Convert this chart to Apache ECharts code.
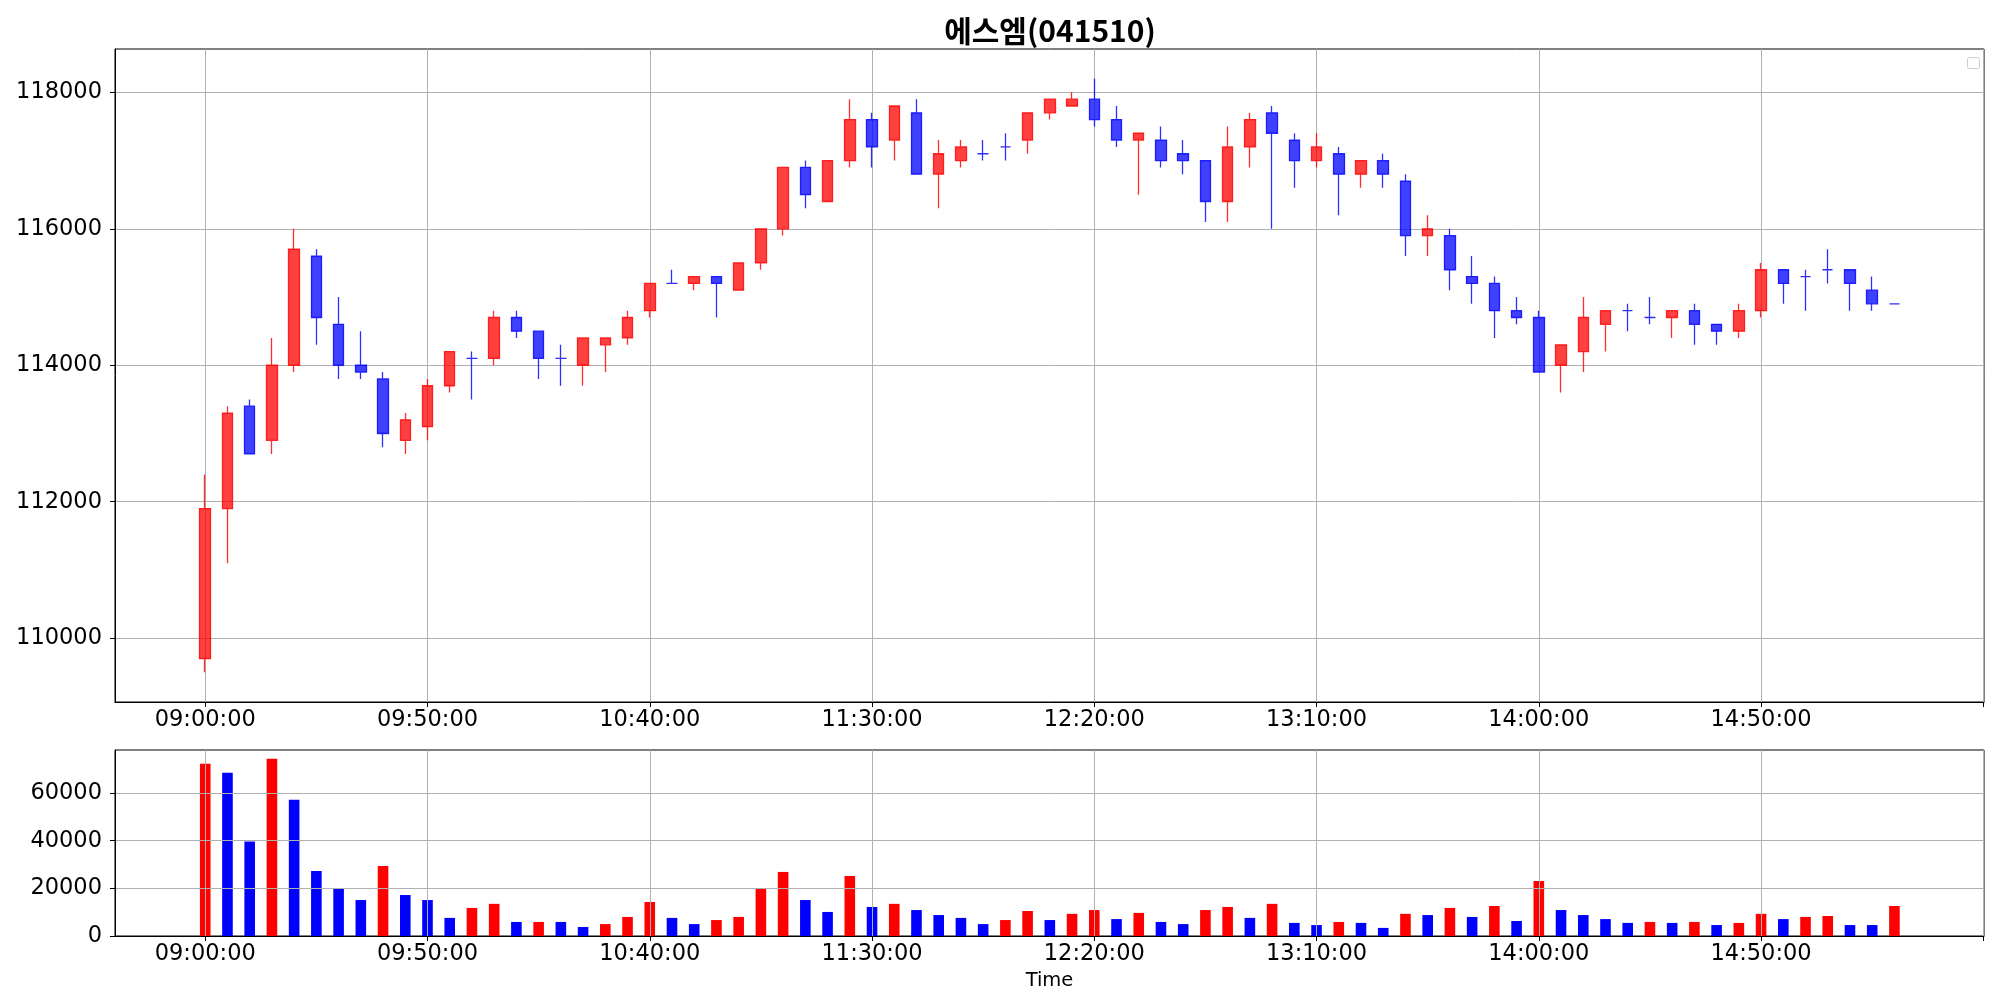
<!DOCTYPE html>
<html><head><meta charset="utf-8">
<script src="https://cdn.jsdelivr.net/npm/echarts@6/dist/echarts.min.js"></script>
<style>html,body{margin:0;padding:0;background:#fff}#c{width:2000px;height:1000px}</style>
</head><body><div id="c"></div><script>
const chartTitle = '에스엠(041510)';
const times = ['09:00','09:05','09:10','09:15','09:20','09:25','09:30','09:35','09:40','09:45',
  '09:50','09:55','10:00','10:05','10:10','10:15','10:20','10:25','10:30','10:35',
  '10:40','10:45','10:50','10:55','11:00','11:05','11:10','11:15','11:20','11:25',
  '11:30','11:35','11:40','11:45','11:50','11:55','12:00','12:05','12:10','12:15',
  '12:20','12:25','12:30','12:35','12:40','12:45','12:50','12:55','13:00','13:05',
  '13:10','13:15','13:20','13:25','13:30','13:35','13:40','13:45','13:50','13:55',
  '14:00','14:05','14:10','14:15','14:20','14:25','14:30','14:35','14:40','14:45',
  '14:50','14:55','15:00','15:05','15:10','15:15','15:20'];
const openP = [109700,111900,113400,112900,114000,115600,114600,114000,113800,112900,
  113100,113700,114100,114100,114700,114500,114100,114000,114300,114400,
  114800,115200,115200,115300,115100,115500,116000,116900,116400,117000,
  117600,117300,117700,116800,117000,117100,117200,117300,117700,117800,
  117900,117600,117300,117300,117100,117000,116400,117200,117700,117300,
  117000,117100,116800,117000,116700,115900,115900,115300,115200,114800,
  114700,114000,114200,114600,114800,114700,114700,114800,114600,114500,
  114800,115400,115300,115400,115400,115100,114900];
const closeP = [111900,113300,112700,114000,115700,114700,114000,113900,113000,113200,
  113700,114200,114100,114700,114500,114100,114100,114400,114400,114700,
  115200,115200,115300,115200,115500,116000,116900,116500,117000,117600,
  117200,117800,116800,117100,117200,117100,117200,117700,117900,117900,
  117600,117300,117400,117000,117000,116400,117200,117600,117400,117000,
  117200,116800,117000,116800,115900,116000,115400,115200,114800,114700,
  113900,114300,114700,114800,114800,114700,114800,114600,114500,114800,
  115400,115200,115300,115400,115200,114900,114900];
const lowP = [109500,111100,112700,112700,113900,114300,113800,113800,112800,112700,
  112900,113600,113500,114000,114400,113800,113700,113700,113900,114300,
  114700,115200,115100,114700,115100,115400,115900,116300,116400,116900,
  116900,117000,116800,116300,116900,117000,117000,117100,117600,117800,
  117500,117200,116500,116900,116800,116100,116100,116900,116000,116600,
  116900,116200,116600,116600,115600,115600,115100,114900,114400,114600,
  113900,113600,113900,114200,114500,114600,114400,114300,114300,114400,
  114700,114900,114800,115200,114800,114800,114900];
const highP = [112400,113400,113500,114400,116000,115700,115000,114500,113900,113300,
  113800,114200,114200,114800,114800,114500,114300,114400,114400,114800,
  115200,115400,115300,115300,115500,116000,116900,117000,117000,117900,
  117700,117800,117900,117300,117300,117300,117400,117700,117900,118000,
  118200,117800,117400,117500,117300,117000,117500,117700,117800,117400,
  117400,117200,117000,117100,116800,116200,116000,115600,115300,115000,
  114800,114300,115000,114800,114900,115000,114800,114900,114600,114900,
  115500,115400,115400,115700,115400,115300,114900];
const volume = [72300,68500,39700,74400,57200,27300,19800,15100,29400,17200,
  15100,7600,11800,13500,5900,5900,5900,3800,5000,8000,
  14300,7600,5000,6700,8000,19800,26900,15100,10100,25200,
  12200,13500,10900,8800,7600,5000,6700,10500,6700,9300,
  10900,7100,9700,5900,5000,10900,12200,7600,13500,5500,
  4600,5900,5500,3400,9300,8800,11800,8000,12600,6300,
  23100,10900,8800,7100,5500,5900,5500,5900,4600,5500,
  9300,7100,8000,8400,4600,4600,12600];
const volumeUp = [1,0,0,1,0,0,0,0,1,0,
  0,0,1,1,0,1,0,0,1,1,
  1,0,0,1,1,1,1,0,0,1,
  0,1,0,0,0,0,1,1,0,1,
  1,0,1,0,0,1,1,0,1,0,
  0,1,0,0,1,0,1,0,1,0,
  1,0,0,0,0,1,0,1,0,1,
  1,0,1,1,0,0,1];
const xTickIndex = [0,10,20,30,40,50,60,70,80];
const xTickLabels = ['09:00:00','09:50:00','10:40:00','11:30:00','12:20:00','13:10:00','14:00:00','14:50:00',''];
const priceTicks = [110000,112000,114000,116000,118000];
const volumeTicks = [0,20000,40000,60000];

const RED = 'rgba(255,0,0,0.75)', RED_L = 'rgba(255,0,0,0.82)';
const BLUE = 'rgba(0,0,255,0.75)', BLUE_L = 'rgba(0,0,255,0.82)';
const downStyle = {color: BLUE, color0: BLUE, borderColor: BLUE_L, borderColor0: BLUE_L, borderColorDoji: BLUE_L};

const candleData = times.map((t, i) => {
  const item = {value: [i, openP[i], closeP[i], lowP[i], highP[i]]};
  if (closeP[i] <= openP[i]) item.itemStyle = downStyle;
  return item;
});
const volData = times.map((t, i) => ({
  value: [i, volume[i]],
  itemStyle: {color: volumeUp[i] ? '#ff0000' : '#0000ff'}
}));

const font = 'DejaVu Sans';
function xAxisCfg(gridIndex, extra) {
  return Object.assign({
    type: 'value', gridIndex, min: -4.06, max: 80.03,
    axisLine: {onZero: false, lineStyle: {color: '#000', width: 1}},
    axisTick: {customValues: xTickIndex, length: 5, lineStyle: {color: '#000', width: 1}},
    axisLabel: {customValues: xTickIndex, color: '#000', fontSize: 22.5, fontFamily: font, margin: 7,
      formatter: v => { const k = xTickIndex.indexOf(Math.round(v)); return k >= 0 ? xTickLabels[k] : ''; }},
    splitLine: {show: true, lineStyle: {color: '#b0b0b0', width: 1}}
  }, extra || {});
}
function yAxisCfg(gridIndex, min, max, ticks, extra) {
  return Object.assign({
    type: 'value', gridIndex, min, max, scale: true,
    axisLine: {show: true, onZero: false, lineStyle: {color: '#000', width: 1}},
    axisTick: {show: true, customValues: ticks, length: 5, lineStyle: {color: '#000', width: 1}},
    axisLabel: {customValues: ticks, color: '#000', fontSize: 22.5, fontFamily: font, margin: 13,
      formatter: v => String(Math.round(v))},
    splitLine: {show: true, lineStyle: {color: '#b0b0b0', width: 1}}
  }, extra || {});
}

const chart = echarts.init(document.getElementById('c'), null, {renderer: 'canvas'});
chart.setOption({
  animation: false,
  backgroundColor: '#fff',
  grid: [
    {left: 115, top: 49, width: 1869, height: 653, show: true, borderColor: '#000', borderWidth: 1, backgroundColor: 'transparent'},
    {left: 115, top: 750, width: 1869, height: 186, show: true, borderColor: '#000', borderWidth: 1, backgroundColor: 'transparent'}
  ],
  xAxis: [
    xAxisCfg(0),
    xAxisCfg(1, {z: 5, name: 'Time', nameLocation: 'middle', nameGap: 35,
      nameTextStyle: {color: '#000', fontSize: 19.5, fontFamily: font}})
  ],
  yAxis: [
    yAxisCfg(0, 109065, 118635, priceTicks),
    yAxisCfg(1, 0, 78100, volumeTicks, {z: 5})
  ],
  series: [
    {type: 'candlestick', xAxisIndex: 0, yAxisIndex: 0, barWidth: 11,
      encode: {x: 0, y: [1, 2, 3, 4]},
      itemStyle: {color: RED, color0: BLUE, borderColor: RED_L, borderColor0: BLUE_L, borderWidth: 1.3},
      data: candleData},
    {type: 'bar', xAxisIndex: 1, yAxisIndex: 1, barWidth: 10.6, z: 2, data: volData}
  ],
  graphic: [
    {type: 'text', x: 1050, y: 31, style: {text: chartTitle, fill: '#000',
      font: 'bold 30px "Noto Sans CJK KR", "DejaVu Sans", sans-serif',
      align: 'center', verticalAlign: 'middle', textAlign: 'center', textVerticalAlign: 'middle'}},
    {type: 'rect', shape: {x: 1967.5, y: 57.5, width: 12, height: 11, r: 2},
      style: {fill: '#fff', stroke: '#cccccc', lineWidth: 1}}
  ]
});
</script></body></html>
